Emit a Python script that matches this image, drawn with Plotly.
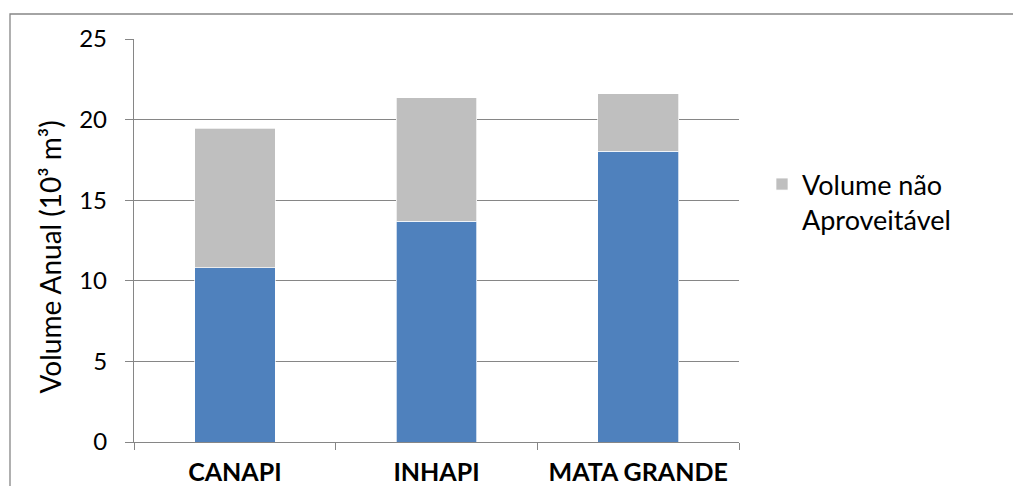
import plotly.graph_objects as go

# Annual volume per municipality (thousand m³), stacked
municipios = ["CANAPI", "INHAPI", "MATA GRANDE"]
volume_aproveitavel = [10.8, 13.7, 18.05]
volume_nao_aproveitavel = [8.65, 7.65, 3.55]
y_ticks = [0, 5, 10, 15, 20, 25]

BLUE = "#4F81BD"
GRAY = "#BFBFBF"
AXIS = "#868686"
FONT = "Lato"
FS = 27

fig = go.Figure()
fig.add_trace(go.Bar(
    x=municipios, y=volume_aproveitavel, name="Volume Aproveitável",
    marker=dict(color=BLUE, line=dict(color="rgba(255,255,255,0.7)", width=1)),
    showlegend=False,
))
fig.add_trace(go.Bar(
    x=municipios, y=volume_nao_aproveitavel, name="Volume não<br>Aproveitável",
    marker=dict(color=GRAY, line=dict(color="rgba(255,255,255,0.7)", width=1)),
))

W, H = 1013, 486
L, R, T, B = 134, 274, 39, 44
pw, ph = W - L - R, H - T - B

def px_x(x):
    return (x - L) / pw

def px_y(y):
    return (H - B - y) / ph

fig.update_layout(
    width=W, height=H,
    margin=dict(l=L, r=R, t=T, b=B, autoexpand=False),
    barmode="stack", bargap=0.6,
    plot_bgcolor="white", paper_bgcolor="white",
    font=dict(family=FONT, size=FS, color="black"),
    legend=dict(
        x=px_x(762), y=px_y(160), xanchor="left", yanchor="top",
        valign="top", font=dict(family=FONT, size=FS, color="black"),
        bgcolor="rgba(0,0,0,0)", borderwidth=0, tracegroupgap=0,
        itemwidth=30,
    ),
    xaxis=dict(
        showline=True, linecolor=AXIS, linewidth=1.3,
        ticks="outside", tickson="boundaries", ticklen=7, tickcolor=AXIS, tickwidth=1.3,
        tickfont=dict(family=FONT, size=25, color="black", weight="bold"),
        ticklabelstandoff=8,
    ),
    yaxis=dict(
        range=[0, 25], tickvals=y_ticks,
        showline=True, linecolor=AXIS, linewidth=1.3,
        showgrid=True, gridcolor=AXIS, gridwidth=1.3, zeroline=False,
        ticks="outside", ticklen=8, tickcolor=AXIS, tickwidth=1.3,
        tickfont=dict(family=FONT, size=24, color="black"),
        ticklabelstandoff=13,
    ),
    annotations=[dict(
        text="Volume Anual (10³ m³)", textangle=-90,
        x=px_x(49), y=px_y(257.5), xref="paper", yref="paper",
        xanchor="center", yanchor="middle", showarrow=False,
        font=dict(family=FONT, size=28, color="black"),
    )],
    shapes=[dict(
        type="rect", xref="paper", yref="paper",
        x0=px_x(10), x1=px_x(1030), y0=px_y(520), y1=px_y(14),
        line=dict(color=AXIS, width=1.3), fillcolor="rgba(0,0,0,0)", layer="below",
    )],
)

fig.write_html("out.html")
